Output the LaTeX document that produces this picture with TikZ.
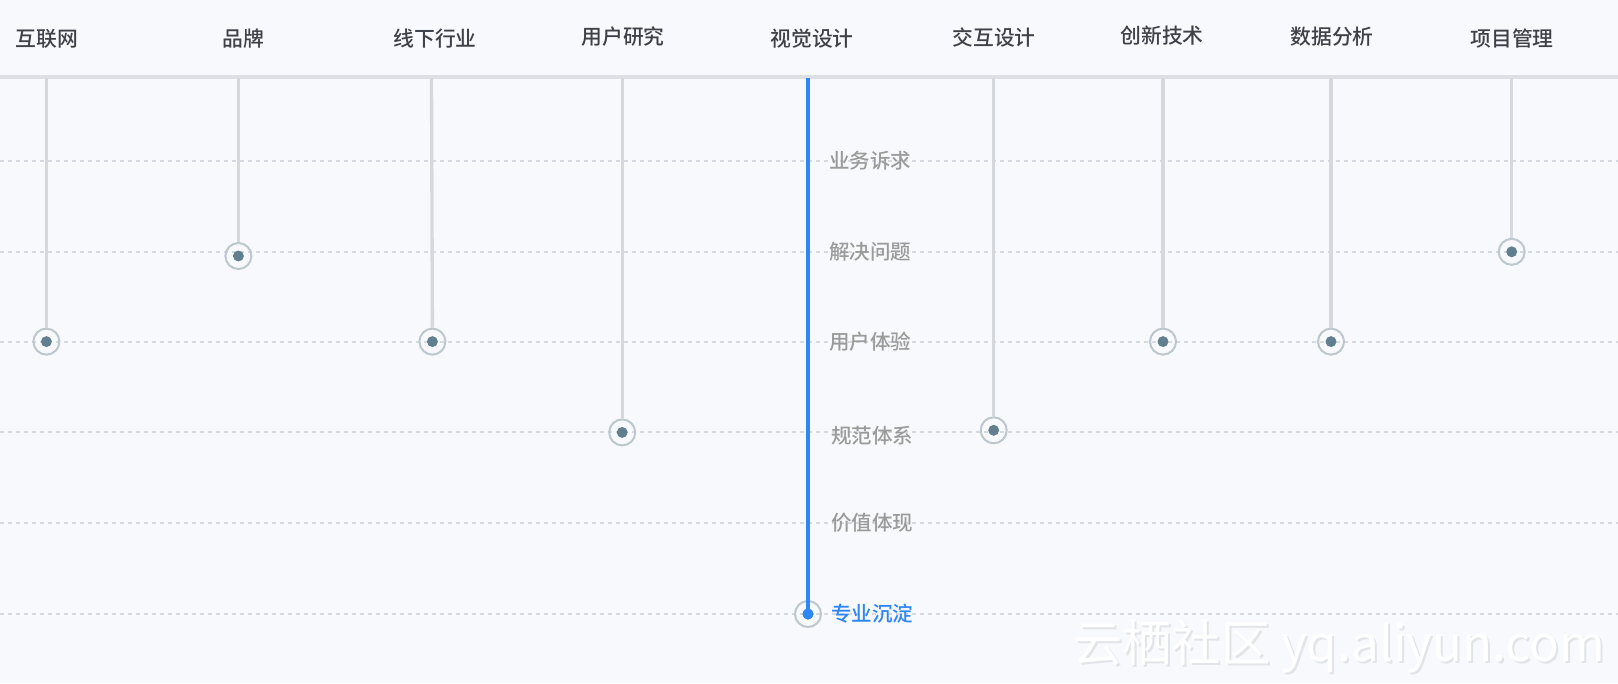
\documentclass[tikz,border=0pt]{standalone}
\usepackage{fontspec}
\setmainfont{Noto Sans CJK SC}
\newfontfamily\cjk{Noto Sans CJK SC}[BoldFont={* Medium}]
\definecolor{bg}{HTML}{F8F9FC}
\definecolor{sep}{HTML}{DCDFE4}
\definecolor{colline}{HTML}{D5D9DE}
\definecolor{dashc}{HTML}{D6DAE0}
\definecolor{headc}{HTML}{3E4148}
\definecolor{rowc}{HTML}{9B9B9B}
\definecolor{ringc}{HTML}{BCC7CE}
\definecolor{dotc}{HTML}{617F8E}
\definecolor{blue}{HTML}{2F86F6}
\definecolor{wmshadow}{HTML}{E2E4E8}
\begin{document}
\begin{tikzpicture}[x=0.75pt,y=-0.75pt,
  head/.style={font=\cjk\fontsize{15.6}{18}\selectfont\bfseries, text=headc, inner sep=0},
  rowlab/.style={font=\cjk\fontsize{15.4}{18}\selectfont\bfseries, text=rowc, anchor=west, inner sep=0},
  marker/.style={circle, draw=ringc, line width=1.5pt, minimum size=19.5pt, inner sep=0,
     path picture={\fill[dotc] (path picture bounding box.center) circle (4.1pt);}},
  bmarker/.style={circle, draw=ringc, line width=1.5pt, minimum size=19.5pt, inner sep=0,
     path picture={\fill[blue] (path picture bounding box.center) circle (4.1pt);}},
  colln/.style={draw=colline, line width=2.5pt},
  rowln/.style={draw=dashc, line width=0.8pt, dash pattern=on 3pt off 3pt}
]
\fill[bg] (0,0) rectangle (1618,683);
\useasboundingbox (0,0) rectangle (1618,683);
% row dashed lines
\foreach \y/\n in {161/r1,252/r2,342/r3,432/r4,523/r5,614/r6}{
  \coordinate (\n L) at (0,\y); \coordinate (\n R) at (1618,\y);
  \draw[rowln] (\n L) -- (\n R);
}
% header separator
\coordinate (sepL) at (0,77); \coordinate (sepR) at (1618,77);
\draw[draw=sep, line width=2.4pt] (sepL) -- (sepR);
% header labels
\node[head] (h1) at (47,39) {互联网};
\node[head] (h2) at (243,39) {品牌};
\node[head] (h3) at (435,39) {线下行业};
\node[head] (h4) at (623,37) {用户研究};
\node[head] (h5) at (812,39) {视觉设计};
\node[head] (h6) at (994,37) {交互设计};
\node[head] (h7) at (1162,36) {创新技术};
\node[head] (h8) at (1332,37) {数据分析};
\node[head] (h9) at (1512,39) {项目管理};
% column tops
\foreach \i/\x in {1/46.4,2/238.4,3/431.5,4/622.2,5/808,6/993.7,7/1163,8/1331,9/1511.7}{
  \coordinate (t\i) at (\x,78);
}
% markers
\node[marker] (m1) at (46.4,341.6) {};
\node[marker] (m2) at (238.4,256) {};
\node[marker] (m3) at (432.4,341.6) {};
\node[marker] (m4) at (622.2,432.4) {};
\node[marker] (m6) at (993.7,430.3) {};
\node[marker] (m7) at (1163,341.6) {};
\node[marker] (m8) at (1331,341.6) {};
\node[marker] (m9) at (1511.7,251.8) {};
\node[bmarker] (m5) at (808,614) {};
% column lines
\foreach \i in {1,2,3,4,6,7,8,9}{ \draw[colln] (t\i) -- (m\i.north); }
\draw[draw=blue, line width=2.5pt] (t5) -- (m5.center);
\fill[blue] (m5.center) circle (4.1pt);
% row labels
\node[rowlab] (l1) at (829,161) {业务诉求};
\node[rowlab] (l2) at (829,252) {解决问题};
\node[rowlab] (l3) at (829,342) {用户体验};
\node[rowlab] (l4) at (831,436) {规范体系};
\node[rowlab] (l5) at (831,523) {价值体现};
\node[rowlab, text=blue] (l6) at (831,614) {专业沉淀};
% watermark
\node[font=\cjk\fontsize{37}{40}\selectfont, text=wmshadow, inner sep=0] (wms) at (1341,648) {云栖社区 yq.aliyun.com};
\node[font=\cjk\fontsize{37}{40}\selectfont, text=white, inner sep=0] (wm) at (1339,646) {云栖社区 yq.aliyun.com};
\end{tikzpicture}
\end{document}
